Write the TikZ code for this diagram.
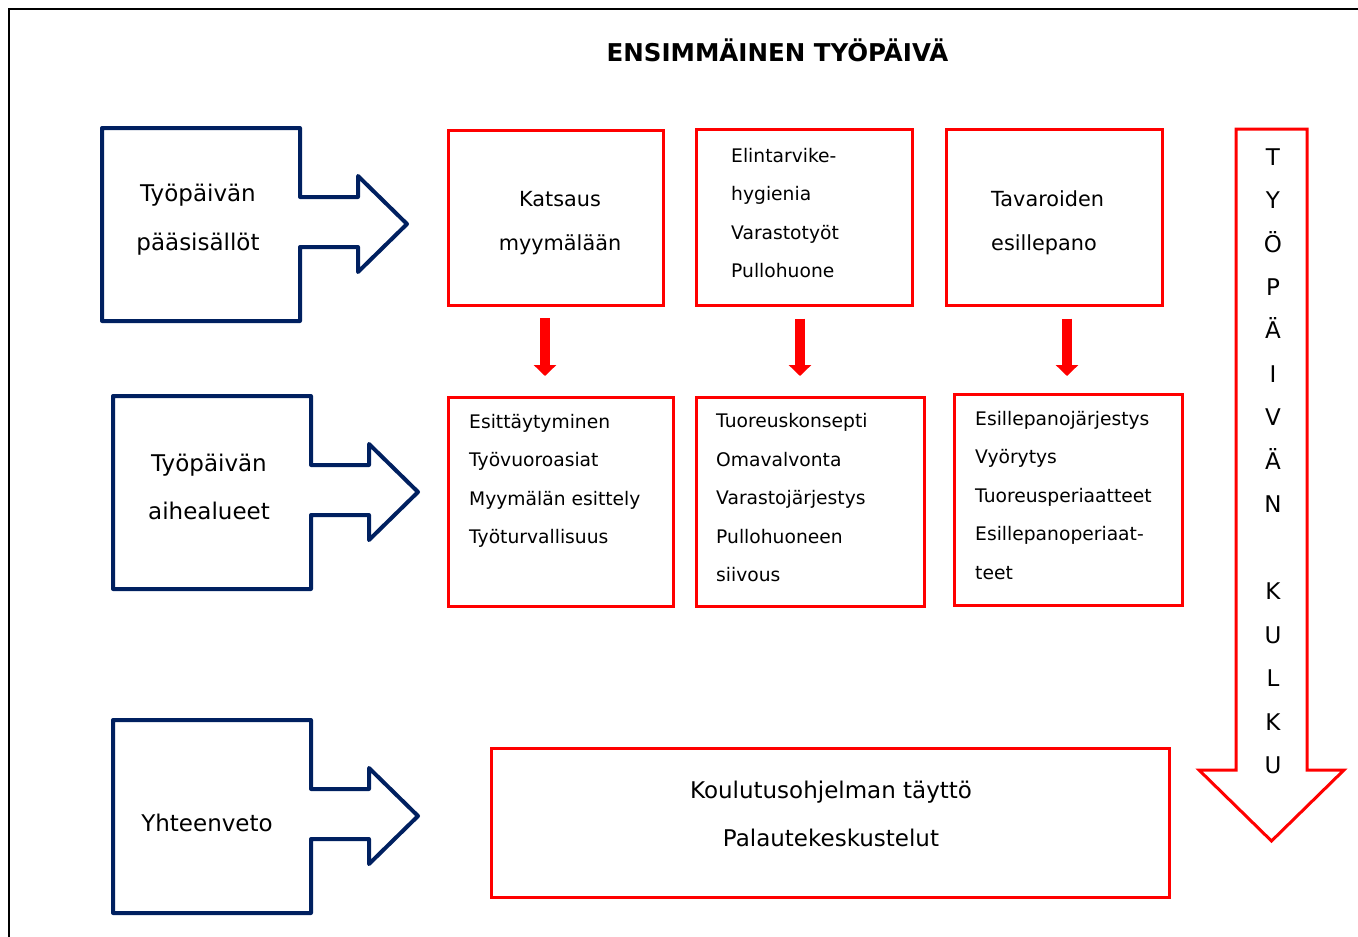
\documentclass[tikz,border=0pt]{standalone}
\usepackage{fontspec}
\setmainfont{DejaVu Sans}
\usetikzlibrary{arrows.meta,positioning}
\definecolor{navy}{HTML}{002060}
\definecolor{boxred}{HTML}{FF0000}
\tikzset{
  blockarr/.style={draw=navy, line width=4pt, line join=round},
  redbox/.style={draw=boxred, line width=3pt, inner sep=0pt, outer sep=0pt},
  downarr/.style={-{Triangle[width=22pt,length=11pt]}, line width=10pt, draw=boxred},
  bigtxt/.style={font=\fontsize{23}{48.5}\selectfont, inner sep=0pt, align=center},
  midtxt/.style={font=\fontsize{20.8}{44}\selectfont, inner sep=0pt, align=left},
  smalltxt/.style={font=\fontsize{18.7}{38.5}\selectfont, inner sep=0pt, align=left}
}
\begin{document}
\begin{tikzpicture}[x=1pt, y=-1pt]
  \useasboundingbox (0,0) rectangle (1358,937);
  \draw[line width=2pt] (9,9) rectangle (1400,990);

  \node[font=\fontsize{24.5}{30}\selectfont\bfseries, anchor=base] (title) at (777.5,61.7) {ENSIMMÄINEN TYÖPÄIVÄ};

  % blue block arrows on the left
  \foreach \x/\y in {102/128, 113/396, 113/720}
    \draw[blockarr] (\x,\y) -- ++(198,0) -- ++(0,69) -- ++(58,0) -- ++(0,-21)
      -- ++(49,48) -- ++(-49,48) -- ++(0,-25) -- ++(-58,0) -- ++(0,74) -- ++(-198,0) -- cycle;

  \node[bigtxt] (main1) at (198,219.9) {Työpäivän\\pääsisällöt};
  \node[bigtxt] (main2) at (209,486.7) {Työpäivän\\aihealueet};
  \node[bigtxt, anchor=base] (main3) at (207,831) {Yhteenveto};

  % red boxes
  \node[redbox, minimum width=215pt, minimum height=175pt] (k1) at (555.5,217.5) {};
  \node[redbox, minimum width=216pt, minimum height=176pt, right=33pt of k1] (k2) {};
  \node[redbox, minimum width=216pt, minimum height=176pt, right=34pt of k2] (k3) {};

  \node[redbox, minimum width=225pt, minimum height=209pt] (a1) at (560.5,501.5) {};
  \node[redbox, minimum width=228pt, minimum height=209pt] (a2) at (810,501.5) {};
  \node[redbox, minimum width=228pt, minimum height=211pt] (a3) at (1068,499.5) {};

  \node[redbox, minimum width=678pt, minimum height=149pt] (summary) at (830,822.5) {};

  \node[midtxt, align=center] (k1txt) at (560,222.9) {Katsaus\\myymälään};
  \node[smalltxt, anchor=west] (k2txt) at (731,213.2) {Elintarvike-\\hygienia\\Varastotyöt\\Pullohuone};
  \node[midtxt, anchor=west] (k3txt) at (991,222.5) {Tavaroiden\\esillepano};

  \node[smalltxt, anchor=west] (a1txt) at (469,480.8) {Esittäytyminen\\Työvuoroasiat\\Myymälän esittely\\Työturvallisuus};
  \node[smalltxt, anchor=west] (a2txt) at (716,497.9) {Tuoreuskonsepti\\Omavalvonta\\Varastojärjestys\\Pullohuoneen\\siivous};
  \node[smalltxt, anchor=west] (a3txt) at (975,495.3) {Esillepanojärjestys\\Vyörytys\\Tuoreusperiaatteet\\Esillepanoperiaat-\\teet};

  \node[bigtxt] (sumtxt) at (831,813.75) {Koulutusohjelman täyttö\\Palautekeskustelut};

  % red arrows between the rows
  \draw[downarr, shorten <=13pt, shorten >=21pt] ([xshift=-10.5pt]k1.south) -- ([xshift=-10.5pt]k1.south |- a1.north);
  \draw[downarr, shorten <=13pt, shorten >=21pt] ([xshift=-4pt]k2.south) -- ([xshift=-4pt]k2.south |- a2.north);
  \draw[downarr, shorten <=13pt, shorten >=18pt] ([xshift=13pt]k3.south) -- ([xshift=13pt]k3.south |- a3.north);

  % course of the day
  \draw[draw=boxred, line width=3pt] (1236,129) -- (1307,129) -- (1307,770) -- (1344,770)
    -- (1271.5,841) -- (1199,770) -- (1236,770) -- cycle;
  \node[font=\fontsize{23}{43.45}\selectfont, align=center, inner sep=0pt, anchor=north] (flow) at (1273,148.2)
    {T\\Y\\Ö\\P\\Ä\\I\\V\\Ä\\N\\[43.45pt]K\\U\\L\\K\\U};
\end{tikzpicture}
\end{document}
